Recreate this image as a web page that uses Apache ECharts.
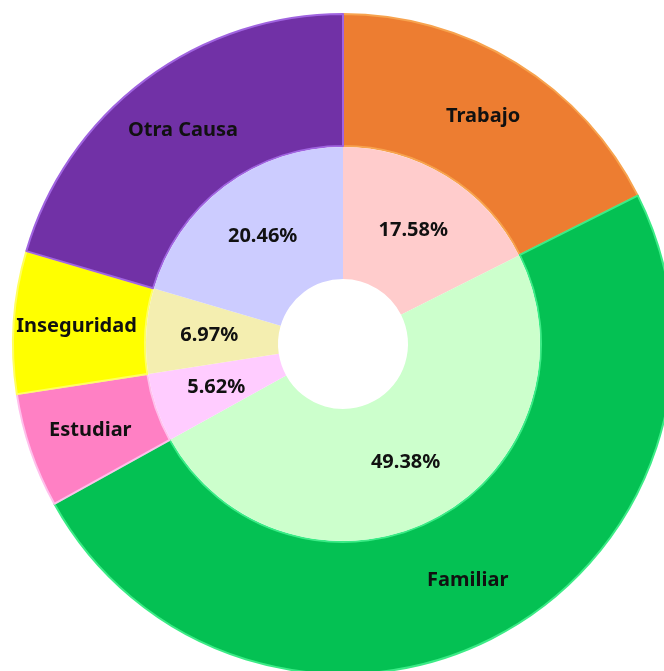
<!DOCTYPE html>
<html>
<head>
<meta charset="utf-8">
<script src="https://cdn.jsdelivr.net/npm/echarts@6/dist/echarts.min.js"></script>
<style>
  html, body { margin: 0; padding: 0; background: #fff; }
  #chart { width: 664px; height: 671px; }
</style>
</head>
<body>
<div id="chart"></div>
<script>
    // datos (sentido horario desde las 12)
    var categories = ['Trabajo', 'Familiar', 'Estudiar', 'Inseguridad', 'Otra Causa'];
    var percents = [17.58, 49.38, 5.62, 6.97, 20.46];

    // colores anillo exterior / interior
    var outerColors = ['#ED7D31', '#04C153', '#FF80C4', '#FFFF00', '#7131A6'];
    var outerBorders = ['#F7A34E', '#3CEB86', '#FFC0EC', '#FFFF60', '#A064E0'];
    var innerColors = ['#FFCCCC', '#CCFFCC', '#FFCCFF', '#F4EEB0', '#CCCCFF'];

    var myChart = echarts.init(document.getElementById('chart'));

    var labelStyle = {
        show: true,
        position: 'inside',
        color: '#111',
        fontFamily: 'Noto Sans',
        fontWeight: 'bold',
        fontSize: 20
    };

    var option = {
        animation: false,
        series: [
            {
                name: 'exterior',
                type: 'pie',
                center: [343, 344],
                radius: [198, 330],
                startAngle: 90,
                avoidLabelOverlap: false,
                label: Object.assign({}, labelStyle, {
                    formatter: function(p) { return p.name; }
                }),
                labelLine: { show: false },
                data: categories.map(function(c, i) {
                    return {
                        name: c,
                        value: percents[i],
                        itemStyle: { color: outerColors[i], borderColor: outerBorders[i], borderWidth: 2 }
                    };
                })
            },
            {
                name: 'interior',
                type: 'pie',
                center: [343, 344],
                radius: [65, 197],
                startAngle: 90,
                avoidLabelOverlap: false,
                label: Object.assign({}, labelStyle, {
                    formatter: function(p) { return p.value.toFixed(2) + '%'; }
                }),
                labelLine: { show: false },
                data: categories.map(function(c, i) {
                    return {
                        name: c,
                        value: percents[i],
                        itemStyle: { color: innerColors[i], borderWidth: 0 }
                    };
                })
            }
        ]
    };

    myChart.setOption(option);
</script>
</body>
</html>
